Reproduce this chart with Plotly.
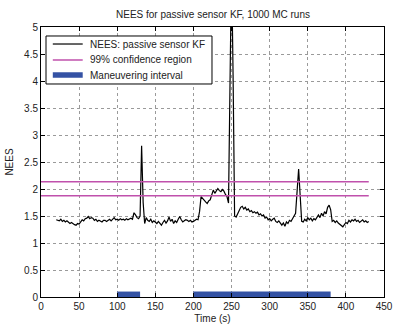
import plotly.graph_objects as go

# Time grid of the NEES curve (s)
time_s = list(range(20, 431, 2))

# Averaged NEES over 1000 Monte Carlo runs, one value per time step
nees = [
    1.43, 1.42, 1.41, 1.44, 1.40, 1.42, 1.39, 1.41, 1.38, 1.36,   # 20-38
    1.38, 1.35, 1.34, 1.33, 1.36, 1.35, 1.38, 1.43, 1.41, 1.45,   # 40-58
    1.46, 1.49, 1.45, 1.47, 1.46, 1.42, 1.44, 1.40, 1.42, 1.41,   # 60-78
    1.39, 1.42, 1.42, 1.40, 1.43, 1.44, 1.41, 1.45, 1.47, 1.43,   # 80-98
    1.44, 1.42, 1.45, 1.43, 1.44, 1.42, 1.45, 1.43, 1.44, 1.46,   # 100-118
    1.44, 1.56, 1.52, 1.47, 1.45, 1.50, 2.80, 1.75, 1.36, 1.47,   # 120-138
    1.42, 1.40, 1.44, 1.38, 1.41, 1.39, 1.36, 1.40, 1.37, 1.33,   # 140-158
    1.38, 1.42, 1.37, 1.41, 1.48, 1.40, 1.44, 1.36, 1.41, 1.38,   # 160-178
    1.44, 1.49, 1.43, 1.39, 1.41, 1.43, 1.42, 1.40, 1.42, 1.39,   # 180-198
    1.40, 1.42, 1.44, 1.43, 1.58, 1.86, 1.82, 1.80, 1.76, 1.73,   # 200-218
    1.78, 1.80, 1.88, 1.98, 1.92, 1.96, 2.01, 1.97, 1.95, 1.99,   # 220-238
    1.96, 1.90, 1.86, 1.74, 4.20, 6.20, 4.10, 1.50, 1.48, 1.55,   # 240-258
    1.62, 1.66, 1.68, 1.63, 1.66, 1.61, 1.63, 1.58, 1.60, 1.56,   # 260-278
    1.58, 1.55, 1.57, 1.52, 1.54, 1.50, 1.52, 1.46, 1.48, 1.43,   # 280-298
    1.45, 1.41, 1.44, 1.46, 1.40, 1.38, 1.41, 1.36, 1.33, 1.37,   # 300-318
    1.31, 1.39, 1.36, 1.42, 1.40, 1.45, 1.50, 1.55, 1.96, 2.37,   # 320-338
    1.88, 1.40, 1.39, 1.44, 1.41, 1.47, 1.43, 1.46, 1.41, 1.45,   # 340-358
    1.43, 1.48, 1.52, 1.47, 1.55, 1.50, 1.58, 1.54, 1.66, 1.70,   # 360-378
    1.62, 1.40, 1.42, 1.38, 1.41, 1.37, 1.35, 1.33, 1.30, 1.34,   # 380-398
    1.38, 1.36, 1.42, 1.39, 1.43, 1.41, 1.44, 1.40, 1.42, 1.38,   # 400-418
    1.40, 1.43, 1.39, 1.41, 1.38, 1.40,                           # 420-430
]

# 99% confidence region bounds and their time span
conf_lower = 1.876
conf_upper = 2.135
conf_span = [0, 430]

# Maneuvering intervals (start, end) in seconds, and the level of the indicator bar
maneuver_start = [100, 200]
maneuver_end = [130, 380]
maneuver_level = 0.05

x_ticks = list(range(0, 451, 50))
y_ticks = [0, 0.5, 1, 1.5, 2, 2.5, 3, 3.5, 4, 4.5, 5]
y_tick_text = ["0", "0.5", "1", "1.5", "2", "2.5", "3", "3.5", "4", "4.5", "5"]

FONT = "Liberation Sans, Arial, Helvetica, sans-serif"
TEXT = "#222222"
MAGENTA = "#c050ac"
BLUE = "#3452a4"
FS = 10

fig = go.Figure()

fig.add_trace(go.Scatter(
    x=time_s, y=nees, mode="lines",
    line=dict(color="black", width=1.2),
    name="NEES: passive sensor KF",
))

conf_x = conf_span + [None] + conf_span
conf_y = [conf_upper, conf_upper, None, conf_lower, conf_lower]
fig.add_trace(go.Scatter(
    x=conf_x, y=conf_y, mode="lines",
    line=dict(color=MAGENTA, width=1.5),
    name="99% confidence region",
))

man_x, man_y = [], []
for s, e in zip(maneuver_start, maneuver_end):
    man_x += [s, e, None]
    man_y += [maneuver_level, maneuver_level, None]
fig.add_trace(go.Scatter(
    x=man_x, y=man_y, mode="lines",
    line=dict(color=BLUE, width=5.5),
    name="Maneuvering interval",
))

fig.update_traces(showlegend=False)

# Compact boxed legend drawn in plot-area (paper) coordinates
box_x0, box_x1 = 0.0146, 0.4985
box_y0, box_y1 = 0.7889, 0.9667
sample_x0, sample_x1 = 0.0344, 0.1216
text_x = 0.1362
row_y = [0.9370, 0.8778, 0.8222]

fig.add_shape(type="rect", xref="paper", yref="paper",
              x0=box_x0, x1=box_x1, y0=box_y0, y1=box_y1,
              line=dict(color="black", width=1), fillcolor="white", layer="above")
for tr, yy in zip(fig.data, row_y):
    fig.add_shape(type="line", xref="paper", yref="paper",
                  x0=sample_x0, x1=sample_x1, y0=yy, y1=yy,
                  line=dict(color=tr.line.color, width=tr.line.width), layer="above")
    fig.add_annotation(xref="paper", yref="paper", x=text_x, y=yy,
                       text=tr.name, showarrow=False, xanchor="left", yanchor="middle",
                       font=dict(family=FONT, size=FS, color=TEXT))

axis_common = dict(
    showline=True, linecolor="black", linewidth=1, mirror="ticks",
    ticks="inside", ticklen=4, tickcolor="black", tickwidth=1,
    showgrid=True, gridcolor="#9a9a9a", griddash="dot", gridwidth=1,
    zeroline=False, automargin=False,
    tickfont=dict(family=FONT, size=FS, color=TEXT),
)

fig.update_xaxes(
    range=[0, 450], tickvals=x_ticks,
    title=dict(text="Time (s)", font=dict(family=FONT, size=FS, color=TEXT), standoff=4),
    **axis_common,
)
fig.update_yaxes(
    range=[0, 5], tickvals=y_ticks, ticktext=y_tick_text,
    title=dict(text="NEES", font=dict(family=FONT, size=FS, color=TEXT), standoff=8),
    **axis_common,
)

fig.update_layout(
    width=393, height=324,
    margin=dict(l=41, r=9, t=27, b=27),
    paper_bgcolor="white", plot_bgcolor="white",
    title=dict(
        text="NEES for passive sensor KF, 1000 MC runs",
        font=dict(family=FONT, size=FS, color=TEXT),
        x=0.542, xanchor="center", y=0.954, yanchor="middle",
    ),
    showlegend=False,
)

fig.write_html("out.html")
